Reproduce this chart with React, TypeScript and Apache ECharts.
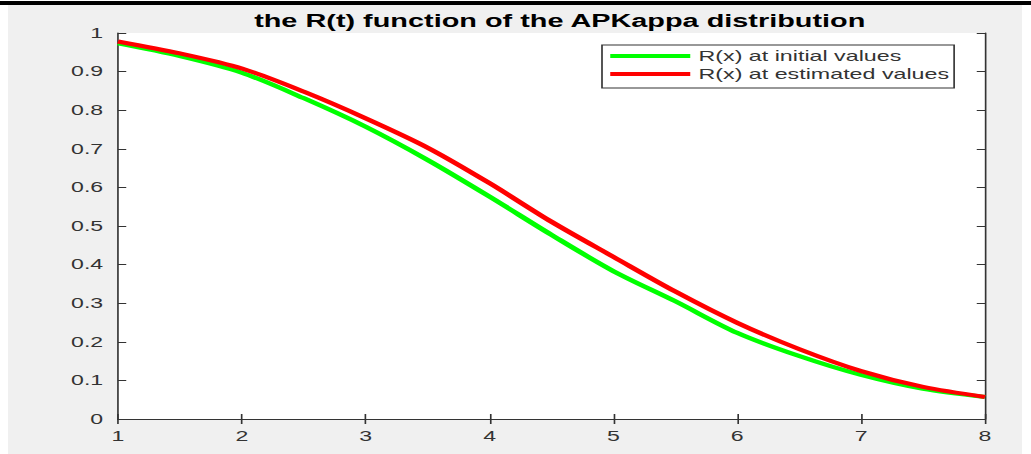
import React, { useEffect, useRef } from "react";
import * as echarts from "echarts";

const xValues = [1, 1.5, 2, 2.5, 3, 3.5, 4, 4.5, 5, 5.5, 6, 6.5, 7, 7.5, 8];
const initialValues = [0.973, 0.94, 0.897, 0.831, 0.757, 0.671, 0.576, 0.477, 0.383, 0.305, 0.223, 0.163, 0.114, 0.078, 0.057];
const estimatedValues = [0.978, 0.947, 0.908, 0.848, 0.779, 0.703, 0.611, 0.511, 0.42, 0.33, 0.249, 0.181, 0.124, 0.083, 0.057];
const seriesNames = ["R(x) at initial values", "R(x) at estimated values"];
const titleText = "the R(t) function of the APKappa distribution";

// The reference picture is stretched horizontally; reproduce that with a CSS scale.
const PAGE_W = 1031;
const PAGE_H = 454;
const SX = 1.6496;
const W = PAGE_W / SX;
const FONT = "'Liberation Sans', Arial, Helvetica, sans-serif";
const AXIS_COLOR = "#333333";

export default function App() {
  const ref = useRef<HTMLDivElement>(null);

  useEffect(() => {
    if (!ref.current) return;
    const chart = echarts.init(ref.current, undefined, { renderer: "svg" });
    const gridLeft = 118 / SX;
    const gridRight = W - 985 / SX;
    const axisCommon = {
      axisLine: { show: true, lineStyle: { color: AXIS_COLOR, width: 1 } },
      axisTick: { show: true, inside: true, length: 5, lineStyle: { color: AXIS_COLOR } },
      splitLine: { show: false },
    };
    chart.setOption({
      animation: false,
      backgroundColor: "#f0f0f0",
      title: {
        text: titleText,
        left: (gridLeft + (W - gridRight)) / 2,
        textAlign: "center",
        top: 7,
        textStyle: { fontFamily: FONT, fontSize: 17.5, fontWeight: "bold", color: "#000" },
      },
      graphic: [
        { type: "rect", shape: { x: 0, y: 0, width: W, height: 5 }, style: { fill: "#ffffff" } },
        { type: "rect", shape: { x: 0, y: 1, width: W, height: 4 }, style: { fill: "#000000" } },
        { type: "rect", shape: { x: 0, y: 5, width: 8 / SX, height: PAGE_H }, style: { fill: "#ffffff" } },
        { type: "rect", shape: { x: 1022 / SX, y: 5, width: W, height: PAGE_H }, style: { fill: "#ffffff" } },
      ],
      grid: {
        left: gridLeft,
        right: gridRight,
        top: 33,
        bottom: 35,
        show: true,
        backgroundColor: "#ffffff",
        borderWidth: 0,
      },
      legend: {
        data: seriesNames,
        orient: "vertical",
        align: "left",
        left: 602 / SX,
        top: 45,
        padding: [3, 3, 6, 5],
        itemGap: 2,
        itemWidth: 48.5,
        itemHeight: 4,
        icon: "rect",
        backgroundColor: "#ffffff",
        borderColor: AXIS_COLOR,
        borderWidth: 1,
        borderRadius: 0,
        textStyle: { fontFamily: FONT, fontSize: 14.1, lineHeight: 16, color: AXIS_COLOR },
      },
      xAxis: [
        {
          type: "value",
          position: "bottom",
          min: 1,
          max: 8,
          interval: 1,
          ...axisCommon,
          axisLabel: { margin: 10, fontFamily: FONT, fontSize: 14, color: AXIS_COLOR },
        },
        {
          type: "value",
          position: "top",
          min: 1,
          max: 8,
          interval: 1,
          ...axisCommon,
          axisLabel: { show: false },
        },
      ],
      yAxis: [
        {
          type: "value",
          position: "left",
          min: 0,
          max: 1,
          interval: 0.1,
          ...axisCommon,
          axisLabel: { margin: 9, fontFamily: FONT, fontSize: 14, color: AXIS_COLOR },
        },
        {
          type: "value",
          position: "right",
          min: 0,
          max: 1,
          interval: 0.1,
          ...axisCommon,
          axisLabel: { show: false },
        },
      ],
      series: [
        {
          name: seriesNames[0],
          type: "line",
          xAxisIndex: 0,
          yAxisIndex: 0,
          data: xValues.map((x, i) => [x, initialValues[i]]),
          smooth: 0.3,
          showSymbol: false,
          symbol: "none",
          lineStyle: { color: "#00ff00", width: 4 },
          itemStyle: { color: "#00ff00" },
        },
        {
          name: seriesNames[1],
          type: "line",
          xAxisIndex: 0,
          yAxisIndex: 0,
          data: xValues.map((x, i) => [x, estimatedValues[i]]),
          smooth: 0.3,
          showSymbol: false,
          symbol: "none",
          lineStyle: { color: "#ff0000", width: 4 },
          itemStyle: { color: "#ff0000" },
        },
      ],
    });
    return () => chart.dispose();
  }, []);

  return (
    <div
      style={{
        position: "fixed",
        left: 0,
        top: 0,
        width: PAGE_W,
        height: PAGE_H,
        overflow: "hidden",
        background: "#ffffff",
      }}
    >
      <div
        ref={ref}
        style={{
          width: W,
          height: PAGE_H,
          transform: `scaleX(${SX})`,
          transformOrigin: "0 0",
        }}
      />
    </div>
  );
}
